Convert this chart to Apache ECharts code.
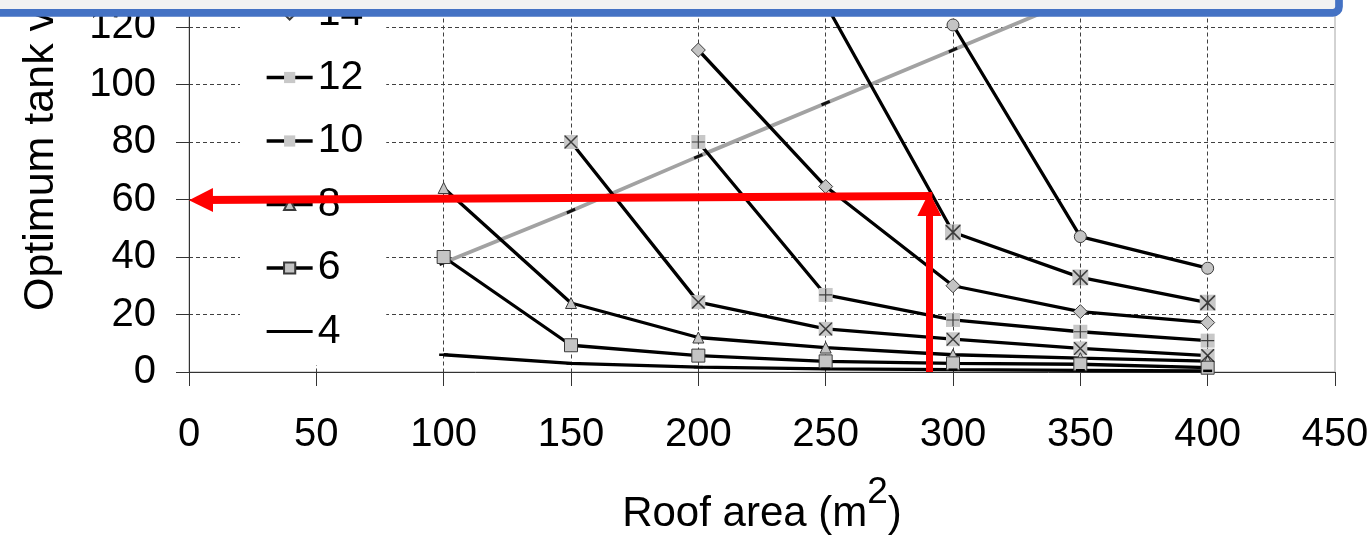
<!DOCTYPE html>
<html><head><meta charset="utf-8">
<script src="https://cdn.jsdelivr.net/npm/echarts@6/dist/echarts.min.js"></script>
<style>html,body{margin:0;padding:0;background:#fff}#c{width:1371px;height:541px}</style>
</head><body><div id="c"></div>
<script>
// ---- data ----
const roofArea = [100, 150, 200, 250, 300, 350, 400];
const d4  = [6.0, 3.0, 1.7, 1.1, 0.8, 0.6, 0.4];
const d6  = [40, 9.3, 5.7, 3.7, 3.0, 2.7, 1.5];
const d8  = [64, 24, 12, 8.5, 6.0, 4.8, 3.8];
const d10 = [null, 80, 24.3, 15, 11.4, 8.2, 5.7];
const d12 = [null, null, 80, 26.8, 18.1, 14.0, 10.9];
const d14 = [null, null, 112, 64.5, 30, 21, 17.2];
const d16 = [null, null, null, 128, 48.6, 32.9, 24.1];
const d18 = [null, null, null, null, 120.7, 47.1, 36.1];
const boundary = [38, 56, 75, 93.5, 112, 130.5, 149];
const legendNames = ['18', '16', '14', '12', '10', '8', '6', '4'];
const arrowH = [[291.9, 61.2], [4.7, 59.8]];
const arrowV = [[290.7, 0], [290.7, 58.4]];
const xTitle = 'Roof area (m{sup|2})';
const yTitle = 'Optimum tank volume (m³)';

const pairs = arr => roofArea.map((x, i) => [x, arr[i]]).filter(p => p[1] != null);

const FONT = 'Liberation Sans, Arial, sans-serif';
const GRAY = '#c4c4c4';
const EDGE = '#3a3a3a';
const X_PATH = 'path://M0,0L0.8,0L10,9.2L10,10L9.2,10L0,0.8Z M9.2,0L10,0L10,0.8L0.8,10L0,10L0,9.2Z';
const PLUS_PATH = 'path://M4.55,0L5.45,0L5.45,10L4.55,10Z M0,4.55L10,4.55L10,5.45L0,5.45Z';
const STAR_PATH = 'path://M0,0L0.8,0L10,9.2L10,10L9.2,10L0,0.8Z M9.2,0L10,0L10,0.8L0.8,10L0,10L0,9.2Z M4.6,0L5.4,0L5.4,10L4.6,10Z';
const DASH_PATH = 'path://M0,0L10,0L10,3L0,3Z';
const LEGEND_DASH = 'path://M0,0L46,0L46,3L0,3Z';

function lineSeries(name, arr, symbol, size, itemStyle) {
  return {
    name, type: 'line', data: pairs(arr), symbol, symbolSize: size,
    lineStyle: { color: '#000', width: 3.3 },
    itemStyle: Object.assign({ color: GRAY, borderColor: EDGE, borderWidth: 1 }, itemStyle || {}),
    z: 3, silent: true, emphasis: { disabled: true }
  };
}
function overlay(arr, path, size) {
  return {
    name: 'ov', type: 'scatter', data: pairs(arr), symbol: path, symbolSize: size,
    itemStyle: { color: '#1a1a1a', borderWidth: 0 }, z: 4, silent: true, emphasis: { disabled: true }
  };
}

const chart = echarts.init(document.getElementById('c'), null, { renderer: 'canvas' });
chart.setOption({
  animation: false,
  backgroundColor: '#fff',
  textStyle: { fontFamily: FONT },
  grid: { left: 189, right: 36, top: -30.5, bottom: 169, show: true, borderColor: '#a6a6a6', borderWidth: 1,
          containLabel: false, outerBoundsMode: 'none' },
  xAxis: {
    type: 'value', min: 0, max: 450, interval: 50,
    name: xTitle, nameLocation: 'middle', nameGap: 102,
    nameTextStyle: { fontSize: 42, color: '#000', fontFamily: FONT, lineHeight: 80,
      rich: { sup: { fontSize: 37, lineHeight: 40, verticalAlign: 'top', color: '#000', fontFamily: FONT } } },
    axisLine: { show: true, onZero: false, lineStyle: { color: '#333', width: 1 } },
    axisTick: { show: true, inside: false, length: 14, lineStyle: { color: '#333' } },
    axisLabel: { fontSize: 40, color: '#000', margin: 43, fontFamily: FONT },
    splitLine: { show: true, showMinLine: false, showMaxLine: false, lineStyle: { color: '#404040', type: [4, 3], width: 1 } }
  },
  yAxis: {
    type: 'value', min: 0, max: 140, interval: 20,
    axisLine: { show: true, onZero: false, lineStyle: { color: '#333', width: 1 } },
    axisTick: { show: true, inside: false, length: 13, lineStyle: { color: '#333' } },
    axisLabel: { fontSize: 40, color: '#000', margin: 33, fontFamily: FONT },
    splitLine: { show: true, showMinLine: false, showMaxLine: false, lineStyle: { color: '#404040', type: [4, 3], width: 1 } }
  },
  legend: {
    orient: 'vertical', left: 240, top: -138.5,
    data: legendNames.map(n => n === '4' ? { name: n, icon: LEGEND_DASH } : n),
    backgroundColor: '#fff', padding: [5, 23, 13, 25],
    itemWidth: 46, itemHeight: 14, itemGap: 22.5, symbolKeepAspect: true,
    selectedMode: false,
    lineStyle: { width: 3.3, color: '#000' },
    textStyle: { fontSize: 41, color: '#000', lineHeight: 40, fontFamily: FONT }
  },
  series: [
    {
      name: 'boundary', type: 'line', data: pairs(boundary), symbol: DASH_PATH, symbolSize: [9, 3], symbolRotate: 23,
      lineStyle: { color: '#a2a2a2', width: 3.8 }, itemStyle: { color: '#111', borderWidth: 0 }, z: 2, silent: true
    },
    lineSeries('18', d18, 'circle', 12),
    lineSeries('16', d16, 'rect', 16, { color: '#c8c8c8', borderWidth: 0 }),
    lineSeries('14', d14, 'diamond', 14),
    lineSeries('12', d12, 'rect', 14, { color: '#c8c8c8', borderWidth: 0 }),
    lineSeries('10', d10, 'rect', 14, { color: '#c8c8c8', borderWidth: 0 }),
    lineSeries('8', d8, 'triangle', 11),
    lineSeries('6', d6, 'rect', 13),
    lineSeries('4', d4, DASH_PATH, [9, 2.5], { color: '#000', borderWidth: 0 }),
    overlay(d16, STAR_PATH, 15),
    overlay(d12, PLUS_PATH, 13),
    overlay(d10, X_PATH, 13),
    {
      name: 'arrows', type: 'line', data: [], z: 10, silent: true,
      markLine: {
        silent: true, animation: false, symbol: ['none', 'triangle'], symbolSize: 24,
        label: { show: false }, emphasis: { disabled: true },
        lineStyle: { color: '#ff0000', type: 'solid' },
        itemStyle: { color: '#ff0000' },
        data: [
          [{ coord: arrowH[0], lineStyle: { width: 8, color: '#ff0000', type: 'solid' } }, { coord: arrowH[1] }],
          [{ coord: arrowV[0], lineStyle: { width: 7, color: '#ff0000', type: 'solid' } }, { coord: arrowV[1] }]
        ]
      }
    }
  ],
  graphic: [
    { type: 'text', silent: true, z: 5, rotation: Math.PI / 2, x: 41, y: 311,
      style: { text: yTitle, fontSize: 43, fontFamily: FONT, fill: '#000', align: 'left', verticalAlign: 'middle' } },
    { type: 'rect', silent: true, z: 100, shape: { x: -20, y: -60, width: 1359, height: 72.85, r: 6 },
      style: { fill: '#f2f2f2', stroke: '#4472c4', lineWidth: 7.7 } }
  ]
});
</script></body></html>
